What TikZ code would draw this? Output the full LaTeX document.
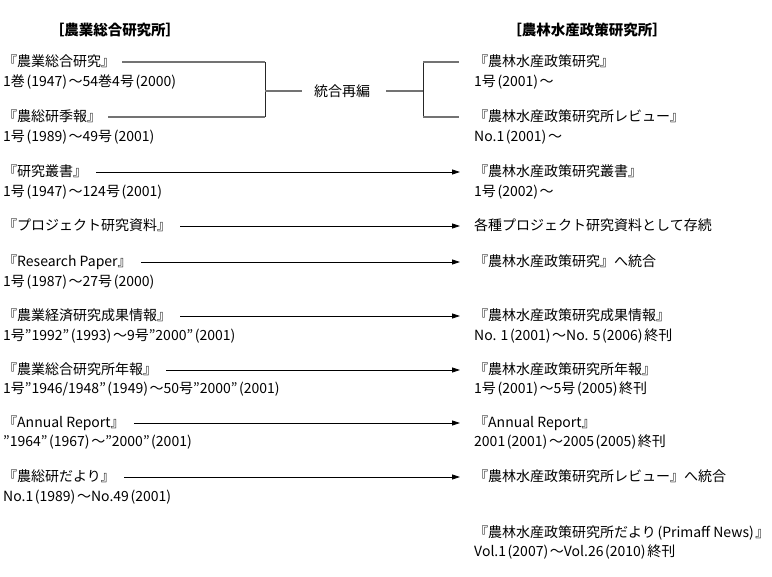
\documentclass[tikz,border=0pt]{standalone}
\usepackage{fontspec}
\setmainfont{Noto Sans CJK JP}
\usetikzlibrary{arrows.meta}
\newcommand\lpa{\kern1.6pt(}
\newcommand\rpa{)\kern1.6pt}
\begin{document}
\begin{tikzpicture}[x=1pt,y=-1pt,
  txt/.style={inner sep=0pt,anchor=base west,font=\fontsize{14}{20}\selectfont,text height=11pt,text depth=1pt},
  ttl/.style={inner sep=0pt,anchor=center,font=\fontsize{14.5}{20}\selectfont\bfseries},
  grayline/.style={draw=black!55,line width=1.2pt},
  darkline/.style={draw=black!85,line width=1pt},
  arr/.style={draw=black,line width=0.8pt,-{Triangle[length=8pt,width=5pt]},shorten <=9pt,shorten >=14pt}]
\useasboundingbox (0,0) rectangle (772,577);
% titles
\node[ttl] (TL) at (115,30) {［農業総合研究所］};
\node[ttl] (TR) at (587,30) {［農林水産政策研究所］};
% left column
\node[txt] (L1) at (3,67) {『農業総合研究』};
\node[txt] (L1d) at (3,87) {1巻\lpa{}1947\rpa{}～54巻4号\lpa{}2000\rpa{}};
\node[txt] (L2) at (3,122) {『農総研季報』};
\node[txt] (L2d) at (3,142) {1号\lpa{}1989\rpa{}～49号\lpa{}2001\rpa{}};
\node[txt] (L3) at (3,177) {『研究叢書』};
\node[txt] (L3d) at (3,197) {1号\lpa{}1947\rpa{}～124号\lpa{}2001\rpa{}};
\node[txt] (L4) at (3,231) {『プロジェクト研究資料』};
\node[txt] (L5) at (3,267) {『Research Paper』};
\node[txt] (L5d) at (3,287) {1号\lpa{}1987\rpa{}～27号\lpa{}2000\rpa{}};
\node[txt] (L6) at (3,321) {『農業経済研究成果情報』};
\node[txt] (L6d) at (3,341) {1号”1992”\lpa{}1993\rpa{}～9号”2000”\lpa{}2001\rpa{}};
\node[txt] (L7) at (3,375) {『農業総合研究所年報』};
\node[txt] (L7d) at (3,394) {1号”1946/1948”\lpa{}1949\rpa{}～50号”2000”\lpa{}2001\rpa{}};
\node[txt] (L8) at (3,428) {『Annual Report』};
\node[txt] (L8d) at (3,447) {”1964”\lpa{}1967\rpa{}～”2000”\lpa{}2001\rpa{}};
\node[txt] (L9) at (3,482) {『農総研だより』};
\node[txt] (L9d) at (3,502) {No.1\lpa{}1989\rpa{}～No.49\lpa{}2001\rpa{}};
% right column
\node[txt] (R1) at (474,67) {『農林水産政策研究』};
\node[txt] (R1d) at (474,87) {1号\lpa{}2001\rpa{}～};
\node[txt] (R2) at (474,122) {『農林水産政策研究所レビュー』};
\node[txt] (R2d) at (474,142) {No.1\lpa{}2001\rpa{}～};
\node[txt] (R3) at (474,177) {『農林水産政策研究叢書』};
\node[txt] (R3d) at (474,197) {1号\lpa{}2002\rpa{}～};
\node[txt] (R4) at (474,231) {各種プロジェクト研究資料として存続};
\node[txt] (R5) at (474,267) {『農林水産政策研究』へ統合};
\node[txt] (R6) at (474,321) {『農林水産政策研究成果情報』};
\node[txt] (R6d) at (474,341) {No. 1\lpa{}2001\rpa{}～No. 5\lpa{}2006\rpa{}終刊};
\node[txt] (R7) at (474,375) {『農林水産政策研究所年報』};
\node[txt] (R7d) at (474,394) {1号\lpa{}2001\rpa{}～5号\lpa{}2005\rpa{}終刊};
\node[txt] (R8) at (474,428) {『Annual Report』};
\node[txt] (R8d) at (474,447) {2001\lpa{}2001\rpa{}～2005\lpa{}2005\rpa{}終刊};
\node[txt] (R9) at (474,482) {『農林水産政策研究所レビュー』へ統合};
\node[txt] (R10) at (474,537) {『農林水産政策研究所だより\lpa{}Primaff News\rpa{}』};
\node[txt] (R10d) at (474,557) {Vol.1\lpa{}2007\rpa{}～Vol.26\lpa{}2010\rpa{}終刊};
% merge
\node[inner sep=0pt,font=\fontsize{14}{20}\selectfont] (M) at (342,91) {統合再編};
\coordinate (jl) at (265,91);
\coordinate (jr) at (423,91);
\draw[grayline,shorten <=7pt] (L1.east) -- (L1.east -| jl);
\draw[grayline,shorten <=7pt] (L2.east) -- (L2.east -| jl);
\draw[darkline] (L1.east -| jl) -- (L2.east -| jl);
\draw[grayline,shorten >=12pt] (jl) -- (M.west);
\draw[grayline,shorten <=16pt] (M.east) -- (jr);
\draw[darkline] (jr |- R1.west) -- (jr |- R2.west);
\draw[grayline,shorten >=15pt] (jr |- R1.west) -- (R1.west);
\draw[grayline,shorten >=15pt] (jr |- R2.west) -- (R2.west);
% arrows
\draw[arr] (L3.east) -- (L3.east -| R3.west);
\draw[arr] (L4.east) -- (L4.east -| R4.west);
\draw[arr] (L5.east) -- (L5.east -| R5.west);
\draw[arr] (L6.east) -- (L6.east -| R6.west);
\draw[arr] (L7.east) -- (L7.east -| R7.west);
\draw[arr] (L8.east) -- (L8.east -| R8.west);
\draw[arr] (L9.east) -- (L9.east -| R9.west);
\end{tikzpicture}
\end{document}
